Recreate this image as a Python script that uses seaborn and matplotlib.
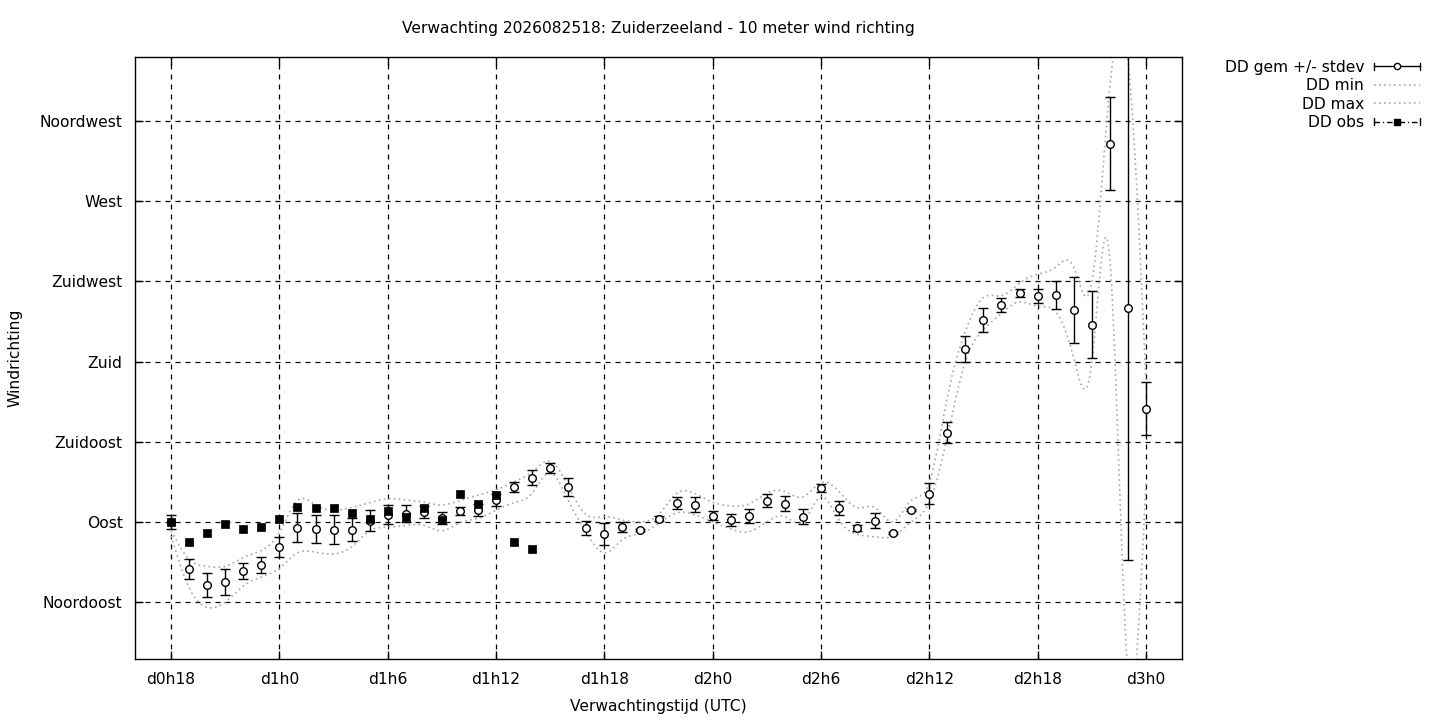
import numpy as np
import pandas as pd
import matplotlib
matplotlib.use("Agg")
import matplotlib.pyplot as plt
import seaborn as sns
from matplotlib.lines import Line2D
from matplotlib.legend_handler import HandlerBase

# uren sinds d0h0
uren = list(range(18, 73))
dd_gem = [90, 63.6, 54.6, 56.3, 62.5, 65.9, 76.0, 86.6, 86.1, 85.5, 85.5, 90.6, 93.9, 94.5, 95.6,
          92.2, 96.2, 96.7, 102.3, 109.6, 114.7, 120.3, 109.6, 86.6, 83.2, 87.2, 85.5, 91.7, 100.7,
          99.6, 93.4, 91.1, 93.4, 101.8, 100.1, 92.8, 109.1, 97.9, 86.6, 90.6, 83.8, 96.7, 105.7,
          140.0, 187.1, 203.4, 211.8, 218.6, 216.9, 217.4, 209.0, 200.6, 302.2, 210.1, 153.4]
dd_sd = [4, 5.6, 6.7, 7.3, 4.5, 4.5, 5.6, 8.1, 7.9, 8.1, 6.5, 5.9, 5.3, 4.8, 3.4,
         3.6, 2.2, 3.4, 3.6, 2.8, 4.2, 2.8, 5.1, 3.9, 6.2, 2.8, 0.6, 1.4, 3.4,
         4.2, 2.5, 3.4, 3.9, 3.6, 4.2, 4.2, 2.2, 3.9, 1.7, 4.2, 0.5, 0.5, 5.9,
         5.9, 7.3, 6.7, 3.9, 2.2, 3.9, 8.1, 18.5, 18.8, 26.1, 141.5, 14.9]
dd_min = [82, 53, 42, 45, 54, 59, 64, 72.6, 73, 72, 76, 85, 87, 88, 88,
          85, 89.5, 92, 96.5, 100.7, 106, 117.5, 102, 84, 72.6, 80, 83.5, 89, 95,
          94, 90, 86, 84.5, 90, 93, 90, 104, 91, 83, 81.6, 82, 90, 101,
          138, 180, 198, 207, 213.5, 211, 208, 182, 179, 238, 6, 112]
dd_max = [85, 69, 65, 65, 70, 74, 84, 102, 99.5, 96.5, 98, 100.7, 103, 102.3, 101,
          99.5, 102, 105, 108, 112.5, 118, 124, 110, 94, 93, 91, 90, 94, 106,
          106, 101, 99, 100, 106, 107, 104, 112, 107, 98, 98, 90, 102, 112,
          160, 197, 216, 217, 224, 229, 233, 233, 224, 334, 350, 170]
obs_uren = list(range(18, 39))
dd_obs = [90, 78.8, 83.8, 88.9, 86.1, 87.2, 91.7, 98.4, 97.9, 97.9, 95.1, 91.7, 96.2, 92.8,
          97.9, 91.1, 105.7, 100.1, 105.2, 78.8, 74.8]

richting_ticks = [45, 90, 135, 180, 225, 270, 315]
richting_labels = ["Noordoost", "Oost", "Zuidoost", "Zuid", "Zuidwest", "West", "Noordwest"]
tijd_ticks = [18, 24, 30, 36, 42, 48, 54, 60, 66, 72]
tijd_labels = ["d0h18", "d1h0", "d1h6", "d1h12", "d1h18", "d2h0", "d2h6", "d2h12", "d2h18", "d3h0"]


def csplines(x, y, n=20):
    # natuurlijke kubische spline, zoals gnuplot 'smooth csplines'
    x = np.asarray(x, float)
    y = np.asarray(y, float)
    k = len(x)
    h = np.diff(x)
    A = np.zeros((k, k))
    b = np.zeros(k)
    A[0, 0] = A[-1, -1] = 1
    for i in range(1, k - 1):
        A[i, i - 1] = h[i - 1]
        A[i, i] = 2 * (h[i - 1] + h[i])
        A[i, i + 1] = h[i]
        b[i] = 3 * ((y[i + 1] - y[i]) / h[i] - (y[i] - y[i - 1]) / h[i - 1])
    c = np.linalg.solve(A, b)
    xs = np.linspace(x[0], x[-1], (k - 1) * n + 1)
    idx = np.clip(np.searchsorted(x, xs, side="right") - 1, 0, k - 2)
    dx = xs - x[idx]
    bc = (y[1:] - y[:-1]) / h - h * (2 * c[:-1] + c[1:]) / 3
    dc = (c[1:] - c[:-1]) / (3 * h)
    ys = y[idx] + bc[idx] * dx + c[idx] * dx ** 2 + dc[idx] * dx ** 3
    return xs, ys


class GnuKey(HandlerBase):
    def __init__(self, marker, mfc, ls):
        super().__init__()
        self.marker = marker
        self.mfc = mfc
        self.ls = ls

    def create_artists(self, legend, orig_handle, xdescent, ydescent, width, height, fontsize, trans):
        y = height / 2 - ydescent
        x0, x1 = -xdescent, width - xdescent
        hc = height * 0.35
        arts = [Line2D([x0, x1], [y, y], color="black", lw=1, ls=self.ls),
                Line2D([x0, x0], [y - hc, y + hc], color="black", lw=1),
                Line2D([x1, x1], [y - hc, y + hc], color="black", lw=1),
                Line2D([(x0 + x1) / 2], [y], marker=self.marker, ms=4.5, mfc=self.mfc,
                       mec="black", mew=1, ls="none")]
        for a in arts:
            a.set_transform(trans)
        return arts


sns.set_style("ticks")
plt.rcParams["font.family"] = ["DejaVu Sans"]
plt.rcParams["font.size"] = 11.2
for k in ["text.color", "axes.labelcolor", "xtick.color", "ytick.color", "axes.edgecolor"]:
    plt.rcParams[k] = "black"

fig = plt.figure(figsize=(14.4, 7.2), dpi=100)
ax = fig.add_axes([135 / 1440, 1 - 659 / 720, (1182 - 135) / 1440, (659 - 57) / 720])

grijs = "#a8a8a8"
xs, ys = csplines(uren, dd_min)
sns.lineplot(x=xs, y=ys, ax=ax, color=grijs, lw=1.2, linestyle=(0, (1, 2)), sort=False, estimator=None)
xs, ys = csplines(uren, dd_max)
sns.lineplot(x=xs, y=ys, ax=ax, color=grijs, lw=1.2, linestyle=(0, (1, 2)), sort=False, estimator=None)

ax.errorbar(uren, dd_gem, yerr=dd_sd, fmt="none", ecolor="black", elinewidth=1, capsize=3.5, capthick=1, zorder=3)
sns.scatterplot(x=uren, y=dd_gem, ax=ax, marker="o", s=30, facecolor="white", edgecolor="black", linewidth=1, zorder=4)
sns.scatterplot(x=obs_uren, y=dd_obs, ax=ax, marker="s", s=32, color="black", edgecolor="black", linewidth=0.5, zorder=5)

ax.set_xlim(16, 74)
ax.set_ylim(13, 351)
ax.set_xticks(tijd_ticks)
ax.set_xticklabels(tijd_labels)
ax.set_yticks(richting_ticks)
ax.set_yticklabels(richting_labels)
ax.grid(True, color="black", linestyle=(0, (4, 4)), lw=0.9)
ax.tick_params(direction="in", length=6, width=1, top=True, right=True, pad=9, colors="black", labelsize=11.2)
for s in ax.spines.values():
    s.set_color("black")
    s.set_linewidth(1)

ax.set_xlabel("Verwachtingstijd (UTC)", fontsize=11.2, labelpad=9)
ax.set_ylabel("Windrichting", fontsize=11.2, labelpad=12)
ax.set_title("Verwachting 2026082518: Zuiderzeeland - 10 meter wind richting", fontsize=11.2, pad=17)

h_gem = Line2D([], [])
h_obs = Line2D([], [])
h_min = Line2D([], [], color=grijs, lw=1.2, linestyle=(0, (1, 2)))
h_max = Line2D([], [], color=grijs, lw=1.2, linestyle=(0, (1, 2)))
fig.legend([h_gem, h_min, h_max, h_obs], ["DD gem +/- stdev", "DD min", "DD max", "DD obs"],
           handler_map={h_gem: GnuKey("o", "white", "-"), h_obs: GnuKey("s", "black", (0, (4, 2, 1, 2)))},
           loc="upper right", bbox_to_anchor=(1428 / 1440, 1 - 52 / 720), frameon=False,
           markerfirst=False, alignment="right", handlelength=3.0, handletextpad=0.6,
           labelspacing=0.22, borderpad=0, fontsize=11.2)

fig.savefig("out.png", dpi=100)
